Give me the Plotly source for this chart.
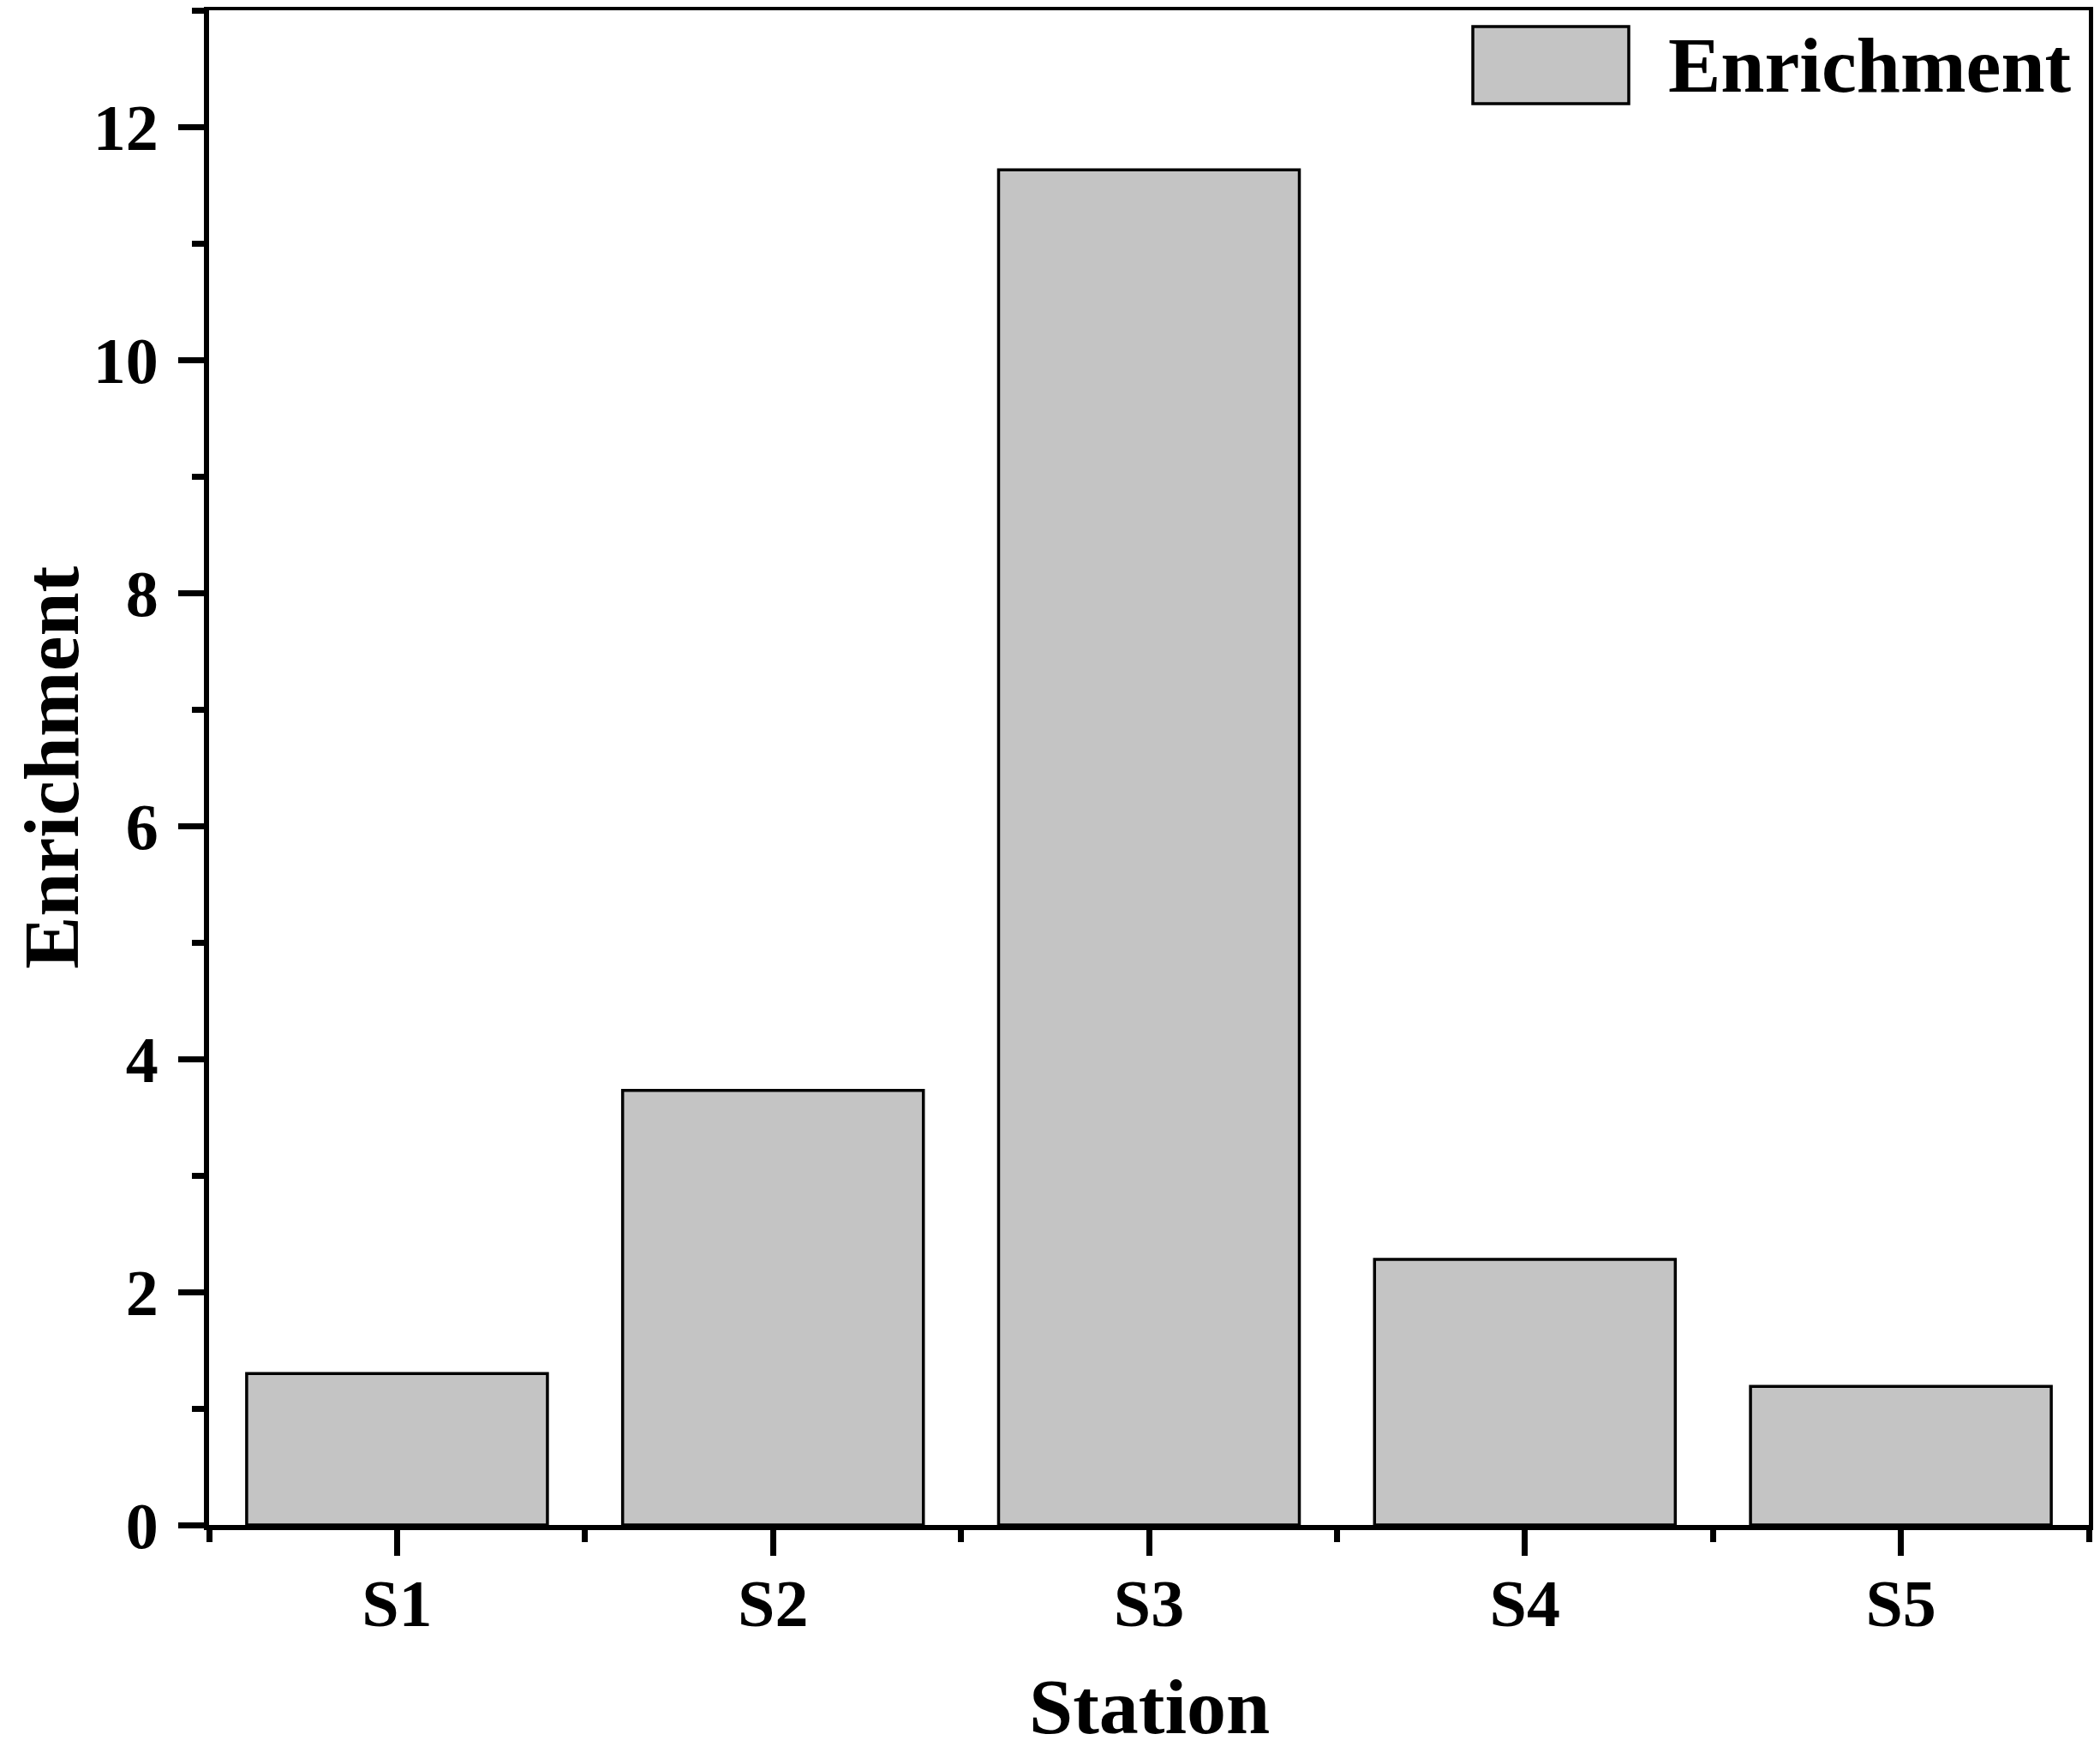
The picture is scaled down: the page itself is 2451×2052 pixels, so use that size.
import plotly.graph_objects as go

stations = ["S1", "S2", "S3", "S4", "S5"]
enrichment = [1.30, 3.73, 11.63, 2.28, 1.19]
series_name = "Enrichment"
x_title = "Station"
y_title = "Enrichment"

# page has an 8px body margin; figure sized so it fits the 2451x2052 window
W, H = 2435, 2036
L, R, T, B = 236, 5, 4, 264
FONT = "Liberation Serif"

xpos = list(range(len(stations)))

fig = go.Figure()
fig.add_trace(go.Bar(
    x=xpos, y=enrichment, name=series_name, width=0.8,
    marker=dict(color="#C4C4C4", line=dict(color="black", width=3.5)),
    showlegend=False,
))

axis_common = dict(
    showline=True, linecolor="black", linewidth=6, mirror=True,
    showgrid=False, zeroline=False, ticks="outside", tickcolor="black",
    tickwidth=7, ticklen=30, automargin=False,
)

fig.update_xaxes(
    **axis_common,
    range=[-0.5, 4.5], tickmode="array", tickvals=xpos, ticktext=stations,
    tickfont=dict(family=FONT, size=78, color="black", weight="bold"),
    ticklabelstandoff=-12,
    minor=dict(ticks="outside", tick0=-0.5, dtick=1, ticklen=14, tickwidth=7, tickcolor="black"),
)
fig.update_yaxes(
    **axis_common,
    range=[0, 13], tick0=0, dtick=2,
    tickfont=dict(family=FONT, size=76, color="black", weight="bold"),
    ticklabelstandoff=8,
    minor=dict(ticks="outside", tick0=0, dtick=1, ticklen=14, tickwidth=7, tickcolor="black"),
)

pw, ph = W - L - R, H - T - B
def px_x(v):
    return (v - L) / pw
def px_y(v):
    return (H - B - v) / ph

title_font = dict(family=FONT, size=92, color="black", weight="bold")
# axis titles (placed as annotations so they can sit close to the page edges)
fig.add_annotation(xref="paper", yref="paper", x=0.5, y=px_y(1984),
                   xanchor="center", yanchor="middle", showarrow=False,
                   text=x_title, font=title_font)
fig.add_annotation(xref="paper", yref="paper", x=px_x(52), y=0.5,
                   xanchor="center", yanchor="middle", showarrow=False,
                   text=y_title, textangle=-90, font=title_font)

# legend
fig.add_shape(type="rect", xref="paper", yref="paper",
              x0=px_x(1711), x1=px_x(1893), y0=px_y(113), y1=px_y(23),
              fillcolor="#C4C4C4", line=dict(color="black", width=3.5))
fig.add_annotation(xref="paper", yref="paper", x=px_x(1937), y=px_y(68),
                   xanchor="left", yanchor="middle", showarrow=False,
                   text=series_name, font=title_font)

fig.update_layout(
    width=W, height=H, margin=dict(l=L, r=R, t=T, b=B),
    paper_bgcolor="white", plot_bgcolor="white", bargap=0.2,
)

fig.write_html("out.html")
